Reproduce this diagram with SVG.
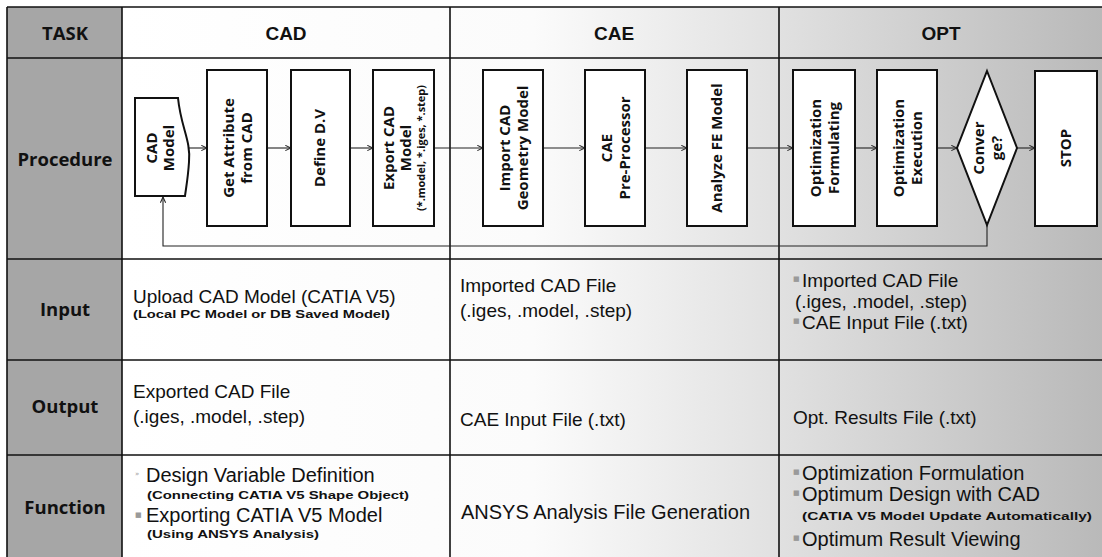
<svg xmlns="http://www.w3.org/2000/svg" width="1102" height="557" viewBox="0 0 1102 557">
  <defs>
    <linearGradient id="cellFill" gradientUnits="userSpaceOnUse" x1="122" y1="0" x2="1102" y2="0">
      <stop offset="0" stop-color="#ffffff"/>
      <stop offset="0.42" stop-color="#fbfbfb"/>
      <stop offset="0.66" stop-color="#e2e2e2"/>
      <stop offset="1" stop-color="#b9b9b9"/>
    </linearGradient>
    <marker id="arrow" viewBox="0 0 8 8" refX="7.5" refY="4" markerWidth="7" markerHeight="7" markerUnits="userSpaceOnUse" orient="auto">
      <path d="M1,1 L7.5,4 L1,7" fill="none" stroke="#222" stroke-width="1.2"/>
    </marker>
    <style>
      .grid { stroke: #111; stroke-width: 1.6; fill: none; }
      .rowhead { font-family: "Open Sans", "Noto Sans", sans-serif; font-weight: 700; font-size: 18.5px; fill: #111; text-anchor: middle; }
      .colhead { font-family: "Liberation Sans", Arial, sans-serif; font-weight: 700; font-size: 19px; fill: #111; text-anchor: middle; }
      .box { fill: #ffffff; stroke: #111; stroke-width: 2; }
      .lbl { font-family: "Open Sans", "Noto Sans", sans-serif; font-weight: 700; font-size: 15px; fill: #111; text-anchor: middle; }
      .lbl-s { font-family: "Open Sans", "Noto Sans", sans-serif; font-weight: 700; font-size: 11px; fill: #111; text-anchor: middle; }
      .body { font-family: "Liberation Sans", Arial, sans-serif; font-size: 19px; fill: #111; }
      .big { font-size: 20px; }
      .note { font-family: "Liberation Sans", Arial, sans-serif; font-weight: 700; font-size: 11.5px; fill: #111; }
      .bullet { font-family: "DejaVu Sans", sans-serif; font-size: 7px; fill: #9a9a9a; }
      .flow { stroke: #222; stroke-width: 1.1; fill: none; }
    </style>
  </defs>

  <!-- table background -->
  <rect x="0" y="0" width="1102" height="557" fill="#ffffff"/>
  <rect x="122" y="7" width="980" height="550" fill="url(#cellFill)"/>
  <rect x="7" y="7" width="115" height="550" fill="#a6a6a6"/>

  <!-- table grid -->
  <g id="grid">
    <line class="grid" x1="7" y1="7" x2="1102" y2="7"/>
    <line class="grid" x1="7" y1="58" x2="1102" y2="58"/>
    <line class="grid" x1="7" y1="259" x2="1102" y2="259"/>
    <line class="grid" x1="7" y1="360" x2="1102" y2="360"/>
    <line class="grid" x1="7" y1="455" x2="1102" y2="455"/>
    <line class="grid" x1="7" y1="7" x2="7" y2="557"/>
    <line class="grid" x1="122" y1="7" x2="122" y2="557"/>
    <line class="grid" x1="450" y1="7" x2="450" y2="557"/>
    <line class="grid" x1="779" y1="7" x2="779" y2="557"/>
  </g>

  <!-- row headings -->
  <g id="row-headings">
    <text class="rowhead" x="65" y="40">TASK</text>
    <text class="rowhead" x="65" y="166">Procedure</text>
    <text class="rowhead" x="65" y="316">Input</text>
    <text class="rowhead" x="65" y="413">Output</text>
    <text class="rowhead" x="65" y="514">Function</text>
  </g>

  <!-- column headings -->
  <g id="col-headings">
    <text class="colhead" x="286" y="40">CAD</text>
    <text class="colhead" x="614" y="40">CAE</text>
    <text class="colhead" x="941" y="40">OPT</text>
  </g>

  <!-- connectors -->
  <g id="connectors">
    <line class="flow" x1="188" y1="148" x2="207" y2="148" marker-end="url(#arrow)"/>
    <line class="flow" x1="267" y1="148" x2="291" y2="148" marker-end="url(#arrow)"/>
    <line class="flow" x1="350" y1="148" x2="373" y2="148" marker-end="url(#arrow)"/>
    <line class="flow" x1="434" y1="148" x2="483" y2="148" marker-end="url(#arrow)"/>
    <line class="flow" x1="543" y1="148" x2="585" y2="148" marker-end="url(#arrow)"/>
    <line class="flow" x1="645" y1="148" x2="687" y2="148" marker-end="url(#arrow)"/>
    <line class="flow" x1="747" y1="148" x2="793" y2="148" marker-end="url(#arrow)"/>
    <line class="flow" x1="855" y1="148" x2="877" y2="148" marker-end="url(#arrow)"/>
    <line class="flow" x1="937" y1="148" x2="957" y2="148" marker-end="url(#arrow)"/>
    <line class="flow" x1="1017" y1="148" x2="1035" y2="148" marker-end="url(#arrow)"/>
    <polyline class="flow" points="987,225 987,246 163,246 163,197" marker-end="url(#arrow)"/>
  </g>

  <!-- procedure nodes -->
  <g id="node-cad-model">
    <path class="box" d="M135,98 L178,98 C181,128 191,140 189,162 C188,178 186,188 185,196 L135,196 Z"/>
    <text class="lbl" transform="translate(160,148) rotate(-90)"><tspan x="0" y="-3">CAD</tspan><tspan x="0" y="14">Model</tspan></text>
  </g>
  <g id="node-get-attribute">
    <rect class="box" x="207" y="70" width="60" height="156"/>
    <text class="lbl" transform="translate(237,148) rotate(-90)"><tspan x="0" y="-3">Get Attribute</tspan><tspan x="0" y="15">from CAD</tspan></text>
  </g>
  <g id="node-define-dv">
    <rect class="box" x="291" y="70" width="59" height="156"/>
    <text class="lbl" transform="translate(320,148) rotate(-90)"><tspan x="0" y="5">Define D.V</tspan></text>
  </g>
  <g id="node-export-cad">
    <rect class="box" x="373" y="70" width="61" height="156"/>
    <text class="lbl" transform="translate(403,148) rotate(-90)"><tspan x="0" y="-9">Export CAD</tspan><tspan x="0" y="8">Model</tspan></text>
    <text class="lbl-s" transform="translate(403,148) rotate(-90)"><tspan x="0" y="22" textLength="126" lengthAdjust="spacingAndGlyphs">(*.model, *.iges, *.step)</tspan></text>
  </g>
  <g id="node-import-cad">
    <rect class="box" x="483" y="70" width="60" height="156"/>
    <text class="lbl" transform="translate(513,148) rotate(-90)"><tspan x="0" y="-3">Import CAD</tspan><tspan x="0" y="15">Geometry Model</tspan></text>
  </g>
  <g id="node-cae-pre">
    <rect class="box" x="585" y="70" width="60" height="156"/>
    <text class="lbl" transform="translate(615,148) rotate(-90)"><tspan x="0" y="-3">CAE</tspan><tspan x="0" y="15">Pre-Processor</tspan></text>
  </g>
  <g id="node-analyze-fe">
    <rect class="box" x="687" y="70" width="60" height="156"/>
    <text class="lbl" transform="translate(717,148) rotate(-90)"><tspan x="0" y="5">Analyze FE Model</tspan></text>
  </g>
  <g id="node-opt-formulating">
    <rect class="box" x="793" y="70" width="62" height="156"/>
    <text class="lbl" transform="translate(824,148) rotate(-90)"><tspan x="0" y="-3">Optimization</tspan><tspan x="0" y="15">Formulating</tspan></text>
  </g>
  <g id="node-opt-execution">
    <rect class="box" x="877" y="70" width="60" height="156"/>
    <text class="lbl" transform="translate(907,148) rotate(-90)"><tspan x="0" y="-3">Optimization</tspan><tspan x="0" y="15">Execution</tspan></text>
  </g>
  <g id="node-converge">
    <polygon class="box" points="987,71 1017,148 987,225 957,148"/>
    <text class="lbl" transform="translate(987,148) rotate(-90)"><tspan x="0" y="-3">Conver</tspan><tspan x="0" y="15">ge?</tspan></text>
  </g>
  <g id="node-stop">
    <rect class="box" x="1035" y="71" width="62" height="155"/>
    <text class="lbl" transform="translate(1066,148) rotate(-90)"><tspan x="0" y="5">STOP</tspan></text>
  </g>

  <!-- CAD column cells -->
  <g id="cad-cells">
    <text class="body" x="133" y="303">Upload CAD Model (CATIA V5)</text>
    <text class="note" x="133" y="318" textLength="257" lengthAdjust="spacingAndGlyphs">(Local PC Model or DB Saved Model)</text>
    <text class="body" x="133" y="398">Exported CAD File</text>
    <text class="body" x="133" y="423">(.iges, .model, .step)</text>
    <text class="bullet" x="135" y="476">»</text>
    <text class="body big" x="146" y="482">Design Variable Definition</text>
    <text class="note" x="147" y="499" textLength="262" lengthAdjust="spacingAndGlyphs">(Connecting CATIA V5 Shape Object)</text>
    <text class="bullet" x="135" y="517">■</text>
    <text class="body big" x="146" y="522">Exporting CATIA V5 Model</text>
    <text class="note" x="147" y="538" textLength="172" lengthAdjust="spacingAndGlyphs">(Using ANSYS Analysis)</text>
  </g>

  <!-- CAE column cells -->
  <g id="cae-cells">
    <text class="body" x="460" y="292">Imported CAD File</text>
    <text class="body" x="460" y="317">(.iges, .model, .step)</text>
    <text class="body" x="460" y="426">CAE Input File (.txt)</text>
    <text class="body big" x="461" y="519">ANSYS Analysis File Generation</text>
  </g>

  <!-- OPT column cells -->
  <g id="opt-cells">
    <text class="bullet" x="793" y="281">■</text>
    <text class="body" x="802" y="287">Imported CAD File</text>
    <text class="body" x="795" y="308">(.iges, .model, .step)</text>
    <text class="bullet" x="793" y="323">■</text>
    <text class="body" x="802" y="329">CAE Input File (.txt)</text>
    <text class="body" x="793" y="424">Opt. Results File (.txt)</text>
    <text class="bullet" x="793" y="474">■</text>
    <text class="body big" x="802" y="480">Optimization Formulation</text>
    <text class="bullet" x="793" y="495">■</text>
    <text class="body big" x="802" y="501">Optimum Design with CAD</text>
    <text class="note" x="802" y="520" textLength="290" lengthAdjust="spacingAndGlyphs">(CATIA V5 Model Update Automatically)</text>
    <text class="bullet" x="793" y="540">■</text>
    <text class="body big" x="802" y="546">Optimum Result Viewing</text>
  </g>
</svg>
